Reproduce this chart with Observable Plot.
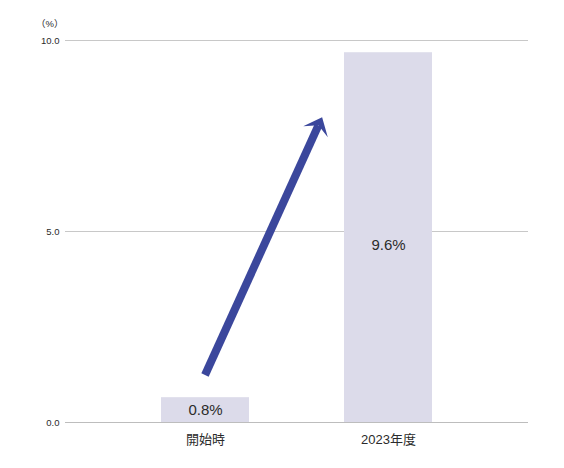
<!DOCTYPE html>
<html>
<head>
<meta charset="utf-8">
<script src="https://cdn.jsdelivr.net/npm/d3@7"></script>
<script src="https://cdn.jsdelivr.net/npm/@observablehq/plot@0.6"></script>
<style>
  body { margin: 0; background: #fff; }
  #chart svg { display: block; }
</style>
</head>
<body>
<div id="chart"></div>
<script>
// Data
const categories = ["開始時", "2023年度"];
const barValues = [0.65, 9.68];          // bar heights as drawn (%)
const barLabels = ["0.8%", "9.6%"];       // printed labels
const yTicks = [0, 5, 10];
const unitLabel = "（%）";
// arrow: from first category (value) toward second category
const arrowStart = {cat: "開始時", value: 1.23};
const arrowEnd = {cat: "2023年度", frac: 0.64, value: 7.98};

const data = categories.map((c, i) => ({cat: c, v: barValues[i], label: barLabels[i]}));

const font = "'Liberation Sans', 'Noto Sans CJK JP', sans-serif";
const arrowColor = "#3b479c";

function arrowMark(index, scales, values, dimensions) {
  const x = scales.x, y = scales.y;
  const bw = typeof x.bandwidth === "function" ? x.bandwidth() : (scales.scales?.x?.bandwidth ?? 0);
  const c0 = x(arrowStart.cat) + bw / 2;
  const cFirst = x(categories[0]) + bw / 2;
  const cSecond = x(arrowEnd.cat) + bw / 2;
  const x1 = c0, y1 = y(arrowStart.value);
  const x2 = cFirst + (cSecond - cFirst) * arrowEnd.frac, y2 = y(arrowEnd.value);
  const dx = x2 - x1, dy = y2 - y1, L = Math.hypot(dx, dy);
  const ux = dx / L, uy = dy / L, nx = -uy, ny = ux;
  const headLen = 16, headHalf = 13.5, notch = 9, shaftHalf = 4;
  const g = d3.create("svg:g");
  const sx = x2 - ux * notch, sy = y2 - uy * notch;
  g.append("path")
    .attr("fill", arrowColor)
    .attr("d", `M${x1 + nx * shaftHalf},${y1 + ny * shaftHalf}
      L${sx + nx * shaftHalf},${sy + ny * shaftHalf}
      L${sx - nx * shaftHalf},${sy - ny * shaftHalf}
      L${x1 - nx * shaftHalf},${y1 - ny * shaftHalf}Z`);
  const bx = x2 - ux * headLen, by = y2 - uy * headLen;
  g.append("path")
    .attr("fill", arrowColor)
    .attr("d", `M${x2},${y2}
      L${bx + nx * headHalf},${by + ny * headHalf}
      L${sx},${sy}
      L${bx - nx * headHalf},${by - ny * headHalf}Z`);
  return g.node();
}

const chart = Plot.plot({
  width: 564,
  height: 468,
  marginLeft: 65,
  marginRight: 36,
  marginTop: 40,
  marginBottom: 46,
  style: {fontFamily: font, color: "#2b2b2b", background: "#fff"},
  x: {domain: categories, padding: 0.52, label: null},
  y: {domain: [0, 10], label: null},
  marks: [
    Plot.gridY(yTicks, {stroke: "#c8c8c8", strokeOpacity: 1, strokeWidth: 1}),
    Plot.barY(data, {x: "cat", y: "v", fill: "#dcdbea"}),
    Plot.ruleY([0], {stroke: "#bdbdbd", strokeWidth: 1.2}),
    Plot.axisY(yTicks, {tickSize: 0, tickPadding: 6, tickFormat: d3.format(".1f"), fontSize: 9.5, label: null, fill: "#2b2b2b"}),
    Plot.axisX({tickSize: 0, tickPadding: 12, fontSize: 13, label: null, fill: "#2b2b2b"}),
    Plot.text(data, {x: "cat", y: d => d.v * 0.48, text: "label", fontSize: 15, fill: "#2b2b2b"}),
    Plot.text([unitLabel], {frameAnchor: "top-left", dx: -2, dy: -20, textAnchor: "end", fontSize: 9.5, fill: "#2b2b2b"}),
    arrowMark
  ]
});
document.getElementById("chart").appendChild(chart);
</script>
</body>
</html>
